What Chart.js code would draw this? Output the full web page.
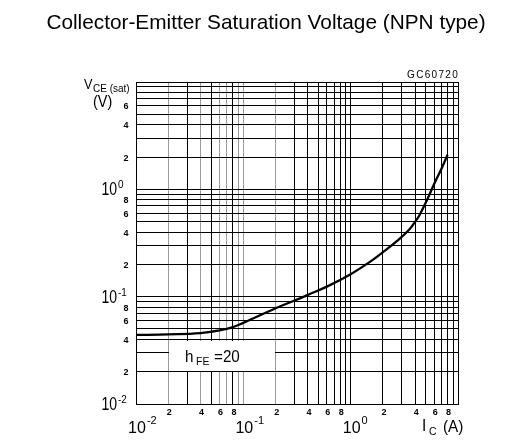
<!DOCTYPE html>
<html>
<head>
<meta charset="utf-8">
<script src="https://cdn.jsdelivr.net/npm/chart.js@4.4.1/dist/chart.umd.min.js"></script>
<style>
  html, body { margin: 0; padding: 0; background: #fff; }
  #wrap { width: 505px; height: 446px; }
</style>
</head>
<body>
<div id="wrap"><canvas id="chart" width="505" height="446"></canvas></div>
<script>
// collector current (A) and saturation voltage (V)
const currentA = [0.01, 0.02, 0.04, 0.06, 0.08, 0.1, 0.2, 0.3, 0.4, 0.6, 1, 1.5, 2, 2.8, 3.5, 4, 4.4, 5, 5.7, 6.3, 7, 8];
const vceSat = [0.044, 0.0445, 0.0457, 0.0485, 0.052, 0.057, 0.078, 0.092, 0.104, 0.124, 0.162, 0.21, 0.26, 0.34, 0.42, 0.5, 0.58, 0.75, 1.0, 1.25, 1.55, 2.1];

// grid lines (one per 1..9 step in each decade)
const xGrid = [0.01, 0.02, 0.03, 0.04, 0.05, 0.06, 0.07, 0.08, 0.09,
  0.1, 0.2, 0.3, 0.4, 0.5, 0.6, 0.7, 0.8, 0.9,
  1, 2, 3, 4, 5, 6, 7, 8, 9, 10];
const yGrid = [0.01, 0.02, 0.03, 0.04, 0.05, 0.06, 0.07, 0.08, 0.09,
  0.1, 0.2, 0.3, 0.4, 0.5, 0.6, 0.7, 0.8, 0.9,
  1, 2, 3, 4, 5, 6, 7, 8, 9, 10];
const greyXLines = [0.02, 0.04, 0.06, 0.07, 0.09, 0.1, 0.2];

// tick labels
const xMajor = [{ v: 0.01, exp: '-2' }, { v: 0.1, exp: '-1' }, { v: 1, exp: '0' }];
const xMinor = [0.02, 0.04, 0.06, 0.08, 0.2, 0.4, 0.6, 0.8, 2, 4, 6, 8];
const xMinorText = ['2', '4', '6', '8', '2', '4', '6', '8', '2', '4', '6', '8'];
const yMajor = [{ v: 0.01, exp: '-2' }, { v: 0.1, exp: '-1' }, { v: 1, exp: '0' }];
const yMinor = [0.02, 0.04, 0.06, 0.08, 0.2, 0.4, 0.6, 0.8, 2, 4, 6];
const yMinorText = ['2', '4', '6', '8', '2', '4', '6', '8', '2', '4', '6'];

const FONT = '"Liberation Sans", Arial, sans-serif';

const points = currentA.map((x, i) => ({ x: x, y: vceSat[i] }));

// text squeezed horizontally, to get the narrow lettering of the datasheet
function narrowText(ctx, text, x, y, size, sx, align) {
  ctx.save();
  ctx.font = size + 'px ' + FONT;
  ctx.textAlign = align || 'left';
  ctx.translate(x, y);
  ctx.scale(sx, 1);
  ctx.fillText(text, 0, 0);
  ctx.restore();
}

const labelsPlugin = {
  id: 'datasheetLabels',
  beforeDatasetsDraw(chart) {
    // white box behind the h_FE note
    const { ctx } = chart;
    const xs = chart.scales.x, ys = chart.scales.y;
    const l = Math.round(xs.getPixelForValue(0.02)) + 1;
    const r = Math.round(xs.getPixelForValue(0.2)) - 1;
    const t = Math.round(ys.getPixelForValue(0.0387));
    const b = Math.round(ys.getPixelForValue(0.02)) - 1;
    ctx.save();
    ctx.fillStyle = '#fff';
    ctx.fillRect(l, t, r - l, b - t);
    ctx.restore();
  },
  afterDraw(chart) {
    const { ctx, chartArea } = chart;
    const xs = chart.scales.x, ys = chart.scales.y;
    ctx.save();
    ctx.fillStyle = '#000';
    ctx.textBaseline = 'alphabetic';

    // title
    ctx.font = '20.8px ' + FONT;
    ctx.textAlign = 'center';
    ctx.fillText('Collector-Emitter Saturation Voltage (NPN type)', 266, 29);

    // drawing number
    ctx.font = '10px ' + FONT;
    ctx.letterSpacing = '1.3px';
    ctx.textAlign = 'right';
    ctx.fillText('GC60720', chartArea.right + 1, 78);
    ctx.letterSpacing = '0px';

    // y minor labels
    ctx.font = 'bold 9px ' + FONT;
    ctx.textAlign = 'center';
    ctx.textBaseline = 'middle';
    yMinor.forEach((v, i) => {
      ctx.fillText(yMinorText[i], 126, ys.getPixelForValue(v) + 1);
    });

    // y major labels 10^n
    ctx.textBaseline = 'alphabetic';
    yMajor.forEach((m) => {
      const py = ys.getPixelForValue(m.v);
      narrowText(ctx, '10', 117, py + 6, 18, 0.78, 'right');
      narrowText(ctx, m.exp, 118, py - 1, 11, 0.9, 'left');
    });

    // x minor labels
    ctx.font = 'bold 9px ' + FONT;
    ctx.textAlign = 'center';
    ctx.textBaseline = 'middle';
    xMinor.forEach((v, i) => {
      ctx.fillText(xMinorText[i], xs.getPixelForValue(v) + 1, 413);
    });

    // x major labels 10^n
    ctx.textBaseline = 'alphabetic';
    xMajor.forEach((m) => {
      const px = xs.getPixelForValue(m.v);
      ctx.font = '16px ' + FONT;
      ctx.textAlign = 'center';
      ctx.fillText('10', px + 1, 433);
      const w = ctx.measureText('10').width;
      ctx.font = '11px ' + FONT;
      ctx.textAlign = 'left';
      ctx.fillText(m.exp, px + 1 + w / 2 + 1, 424);
    });

    // axis titles
    ctx.textAlign = 'left';
    narrowText(ctx, 'V', 84, 89, 14, 0.9);
    narrowText(ctx, 'CE (sat)', 93, 92, 10.5, 0.95);
    narrowText(ctx, '(V)', 93, 107, 16, 0.9);

    narrowText(ctx, 'I', 422, 431, 17, 0.9);
    narrowText(ctx, 'C', 429, 435, 11, 0.95);
    narrowText(ctx, '(A)', 443, 432, 17, 0.9);

    // h_FE note
    narrowText(ctx, 'h', 185, 362, 16, 0.95);
    narrowText(ctx, 'FE', 196, 365, 11, 0.95);
    narrowText(ctx, '=20', 214, 362, 16, 0.95);

    ctx.restore();
  }
};

new Chart(document.getElementById('chart'), {
  type: 'scatter',
  data: {
    datasets: [{
      data: points,
      showLine: true,
      borderColor: '#000',
      borderWidth: 2.3,
      pointRadius: 0,
      tension: 0.4
    }]
  },
  options: {
    responsive: false,
    animation: false,
    layout: { padding: { left: 136, right: 47, top: 82, bottom: 42 } },
    plugins: {
      legend: { display: false },
      tooltip: { enabled: false }
    },
    scales: {
      x: {
        type: 'logarithmic',
        min: 0.01,
        max: 10,
        afterBuildTicks: (scale) => { scale.ticks = xGrid.map((v) => ({ value: v })); },
        ticks: { display: false },
        grid: {
          drawTicks: false,
          lineWidth: 1,
          color: (c) => (c.tick && greyXLines.includes(c.tick.value) ? '#9a9a9a' : '#000')
        },
        border: { display: true, color: '#000', width: 1 }
      },
      y: {
        type: 'logarithmic',
        min: 0.01,
        max: 10,
        afterBuildTicks: (scale) => { scale.ticks = yGrid.map((v) => ({ value: v })); },
        ticks: { display: false },
        grid: { drawTicks: false, lineWidth: 1, color: '#000' },
        border: { display: true, color: '#000', width: 1 }
      }
    }
  },
  plugins: [labelsPlugin]
});
</script>
</body>
</html>
